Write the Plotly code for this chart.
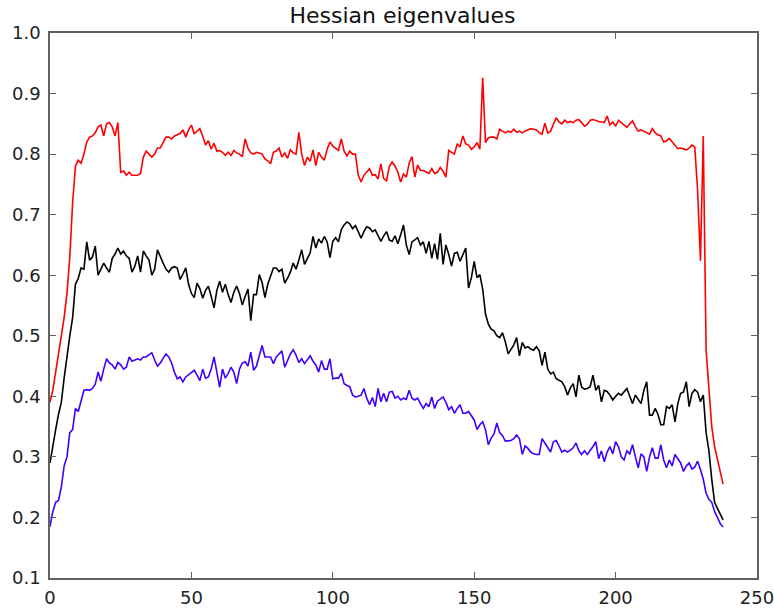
import plotly.graph_objects as go

# Hessian eigenvalue traces along the sample index (one value per step)
red_vals = [
    0.39, 0.41, 0.44, 0.47, 0.50, 0.53, 0.57, 0.63, 0.72, 0.78,
    0.79, 0.785, 0.80, 0.82, 0.828, 0.83, 0.835, 0.845, 0.848, 0.83,
    0.85, 0.852, 0.845, 0.83, 0.852, 0.77, 0.772, 0.765, 0.77, 0.765,
    0.765, 0.765, 0.768, 0.795, 0.805, 0.80, 0.795, 0.80, 0.81, 0.81,
    0.82, 0.828, 0.828, 0.825, 0.83, 0.832, 0.834, 0.84, 0.828, 0.84,
    0.848, 0.834, 0.838, 0.842, 0.83, 0.815, 0.822, 0.808, 0.818, 0.805,
    0.806, 0.803, 0.798, 0.803, 0.798, 0.806, 0.802, 0.80, 0.796, 0.825,
    0.81, 0.802, 0.80, 0.803, 0.802, 0.80, 0.792, 0.789, 0.784, 0.803,
    0.805, 0.81, 0.795, 0.802, 0.793, 0.807, 0.802, 0.80, 0.836, 0.80,
    0.781, 0.795, 0.788, 0.807, 0.781, 0.803, 0.795, 0.79, 0.808, 0.82,
    0.813, 0.81, 0.806, 0.825, 0.805, 0.797, 0.805, 0.80, 0.80, 0.765,
    0.754, 0.765, 0.77, 0.776, 0.765, 0.766, 0.759, 0.784, 0.76, 0.756,
    0.78, 0.787, 0.78, 0.77, 0.754, 0.767, 0.762, 0.785, 0.796, 0.762,
    0.782, 0.773, 0.773, 0.77, 0.768, 0.776, 0.768, 0.77, 0.778, 0.772,
    0.762, 0.806, 0.803, 0.80, 0.817, 0.812, 0.83, 0.817, 0.815, 0.808,
    0.812, 0.819, 0.808, 0.926, 0.819, 0.827, 0.828, 0.828, 0.825, 0.841,
    0.838, 0.835, 0.838, 0.836, 0.841, 0.836, 0.838, 0.835, 0.838, 0.84,
    0.842, 0.841, 0.84, 0.835, 0.833, 0.851, 0.835, 0.838, 0.85, 0.86,
    0.853, 0.85, 0.856, 0.852, 0.854, 0.852, 0.856, 0.857, 0.852, 0.846,
    0.849, 0.856, 0.857, 0.855, 0.854, 0.853, 0.852, 0.863, 0.848, 0.853,
    0.846, 0.856, 0.852, 0.848, 0.844, 0.85, 0.855, 0.845, 0.838, 0.84,
    0.838, 0.836, 0.833, 0.842, 0.835, 0.832, 0.83, 0.82, 0.822, 0.826,
    0.82, 0.815, 0.809, 0.81, 0.808, 0.807, 0.81, 0.815, 0.812, 0.74,
    0.624, 0.83, 0.476, 0.41, 0.35, 0.317, 0.295, 0.272, 0.255,
]

black_vals = [
    0.29, 0.32, 0.345, 0.37, 0.39, 0.43, 0.47, 0.50, 0.53, 0.585,
    0.595, 0.612, 0.61, 0.655, 0.625, 0.63, 0.648, 0.60, 0.61, 0.62,
    0.612, 0.605, 0.628, 0.635, 0.645, 0.635, 0.64, 0.632, 0.628, 0.605,
    0.615, 0.632, 0.605, 0.64, 0.632, 0.625, 0.60, 0.61, 0.642, 0.63,
    0.62, 0.61, 0.605, 0.612, 0.614, 0.612, 0.593, 0.602, 0.612, 0.585,
    0.57, 0.563, 0.587, 0.578, 0.562, 0.575, 0.582, 0.565, 0.546, 0.575,
    0.59, 0.572, 0.585, 0.568, 0.555, 0.572, 0.582, 0.57, 0.551, 0.565,
    0.577, 0.525, 0.568, 0.568, 0.601, 0.588, 0.563, 0.585, 0.598, 0.612,
    0.612, 0.606, 0.61, 0.587, 0.595, 0.605, 0.62, 0.61, 0.625, 0.642,
    0.618, 0.628, 0.637, 0.664, 0.645, 0.66, 0.653, 0.664, 0.655, 0.629,
    0.656, 0.662, 0.655, 0.675, 0.683, 0.688, 0.685, 0.677, 0.682, 0.672,
    0.661, 0.672, 0.68, 0.678, 0.672, 0.675, 0.665, 0.656, 0.665, 0.672,
    0.658, 0.656, 0.665, 0.652, 0.667, 0.683, 0.65, 0.634, 0.655, 0.658,
    0.662, 0.65, 0.655, 0.636, 0.656, 0.628, 0.652, 0.626, 0.669, 0.618,
    0.65, 0.634, 0.615, 0.636, 0.638, 0.623, 0.635, 0.645, 0.579, 0.596,
    0.623, 0.596, 0.601, 0.577, 0.536, 0.519, 0.511, 0.508, 0.50, 0.497,
    0.505, 0.49, 0.47, 0.478, 0.485, 0.497, 0.467, 0.489, 0.48, 0.482,
    0.478, 0.476, 0.482, 0.475, 0.451, 0.473, 0.445, 0.437, 0.44, 0.429,
    0.427, 0.424, 0.416, 0.402, 0.414, 0.421, 0.399, 0.435, 0.415, 0.412,
    0.413, 0.416, 0.435, 0.41, 0.418, 0.391, 0.41, 0.408, 0.402, 0.394,
    0.40, 0.405, 0.402, 0.407, 0.413, 0.40, 0.388, 0.402, 0.396, 0.388,
    0.41, 0.424, 0.369, 0.369, 0.38, 0.37, 0.353, 0.353, 0.383, 0.38,
    0.386, 0.358, 0.388, 0.405, 0.407, 0.424, 0.383, 0.405, 0.411, 0.407,
    0.391, 0.402, 0.34, 0.31, 0.263, 0.225, 0.215, 0.205, 0.196,
]

blue_vals = [
    0.185, 0.21, 0.225, 0.228, 0.25, 0.285, 0.30, 0.34, 0.345, 0.38,
    0.375, 0.395, 0.41, 0.411, 0.41, 0.413, 0.42, 0.44, 0.425, 0.445,
    0.462, 0.455, 0.452, 0.445, 0.456, 0.452, 0.445, 0.448, 0.465, 0.458,
    0.46, 0.462, 0.46, 0.465, 0.465, 0.468, 0.472, 0.46, 0.45, 0.455,
    0.462, 0.47, 0.465, 0.455, 0.44, 0.429, 0.432, 0.424, 0.432, 0.436,
    0.44, 0.443, 0.435, 0.426, 0.445, 0.43, 0.432, 0.445, 0.465, 0.44,
    0.415, 0.445, 0.43, 0.438, 0.448, 0.44, 0.421, 0.445, 0.455, 0.457,
    0.45, 0.473, 0.443, 0.45, 0.467, 0.484, 0.465, 0.465, 0.465, 0.454,
    0.465, 0.47, 0.475, 0.448, 0.46, 0.47, 0.477, 0.468, 0.456, 0.462,
    0.454, 0.46, 0.467, 0.458, 0.452, 0.44, 0.459, 0.445, 0.445, 0.462,
    0.429, 0.43, 0.43, 0.438, 0.421, 0.418, 0.416, 0.402, 0.399, 0.40,
    0.402, 0.413, 0.397, 0.386, 0.398, 0.383, 0.413, 0.391, 0.405, 0.391,
    0.407, 0.408, 0.397, 0.40, 0.394, 0.397, 0.395, 0.41, 0.397, 0.394,
    0.397, 0.388, 0.38, 0.388, 0.383, 0.399, 0.38, 0.392, 0.395, 0.399,
    0.39, 0.378, 0.383, 0.372, 0.38, 0.386, 0.372, 0.372, 0.375, 0.369,
    0.361, 0.345, 0.353, 0.358, 0.345, 0.32, 0.331, 0.338, 0.356, 0.34,
    0.335, 0.326, 0.326, 0.327, 0.33, 0.336, 0.33, 0.304, 0.318, 0.314,
    0.308, 0.305, 0.304, 0.304, 0.33, 0.322, 0.315, 0.308, 0.325, 0.327,
    0.318, 0.308, 0.311, 0.308, 0.311, 0.315, 0.323, 0.31, 0.304, 0.31,
    0.304, 0.31, 0.317, 0.325, 0.297, 0.31, 0.292, 0.308, 0.317, 0.305,
    0.325, 0.317, 0.30, 0.295, 0.31, 0.305, 0.32, 0.30, 0.282, 0.305,
    0.30, 0.276, 0.30, 0.315, 0.298, 0.298, 0.32, 0.295, 0.282, 0.295,
    0.285, 0.304, 0.296, 0.29, 0.276, 0.285, 0.29, 0.28, 0.283, 0.293,
    0.279, 0.263, 0.24, 0.23, 0.225, 0.21, 0.20, 0.19, 0.184,
]

x_ticks = [0, 50, 100, 150, 200, 250]
y_ticks = [0.1, 0.2, 0.3, 0.4, 0.5, 0.6, 0.7, 0.8, 0.9, 1.0]

steps = list(range(len(red_vals)))

fig = go.Figure()
for vals, color in [(red_vals, "#ff0000"), (black_vals, "#000000"), (blue_vals, "#4000ff")]:
    fig.add_trace(go.Scatter(
        x=steps, y=vals, mode="lines",
        line=dict(color=color, width=1.6),
        showlegend=False, hoverinfo="skip",
    ))

axis_style = dict(
    showgrid=False, zeroline=False, automargin=False,
    showline=True, linecolor="#606060", linewidth=1.5, mirror="ticks",
    ticks="inside", ticklen=6, tickwidth=1.2, tickcolor="#606060",
    ticklabeloverflow="allow",
    tickfont=dict(family="DejaVu Sans", size=18, color="#222222"),
)

fig.update_layout(
    width=774, height=610,
    margin=dict(l=50, r=17, t=33, b=32),
    paper_bgcolor="white", plot_bgcolor="white",
    title=dict(
        text="Hessian eigenvalues",
        x=0.52, xanchor="center",
        y=1 - 15 / 610, yref="container", yanchor="middle",
        font=dict(family="DejaVu Sans", size=22, color="#111111"),
    ),
    xaxis=dict(range=[0, 250], tickvals=x_ticks, ticklabelstandoff=3, **axis_style),
    yaxis=dict(range=[0.1, 1.0], tickvals=y_ticks, tickformat=".1f",
               ticklabelstandoff=4, **axis_style),
)

fig.write_html("out.html")
